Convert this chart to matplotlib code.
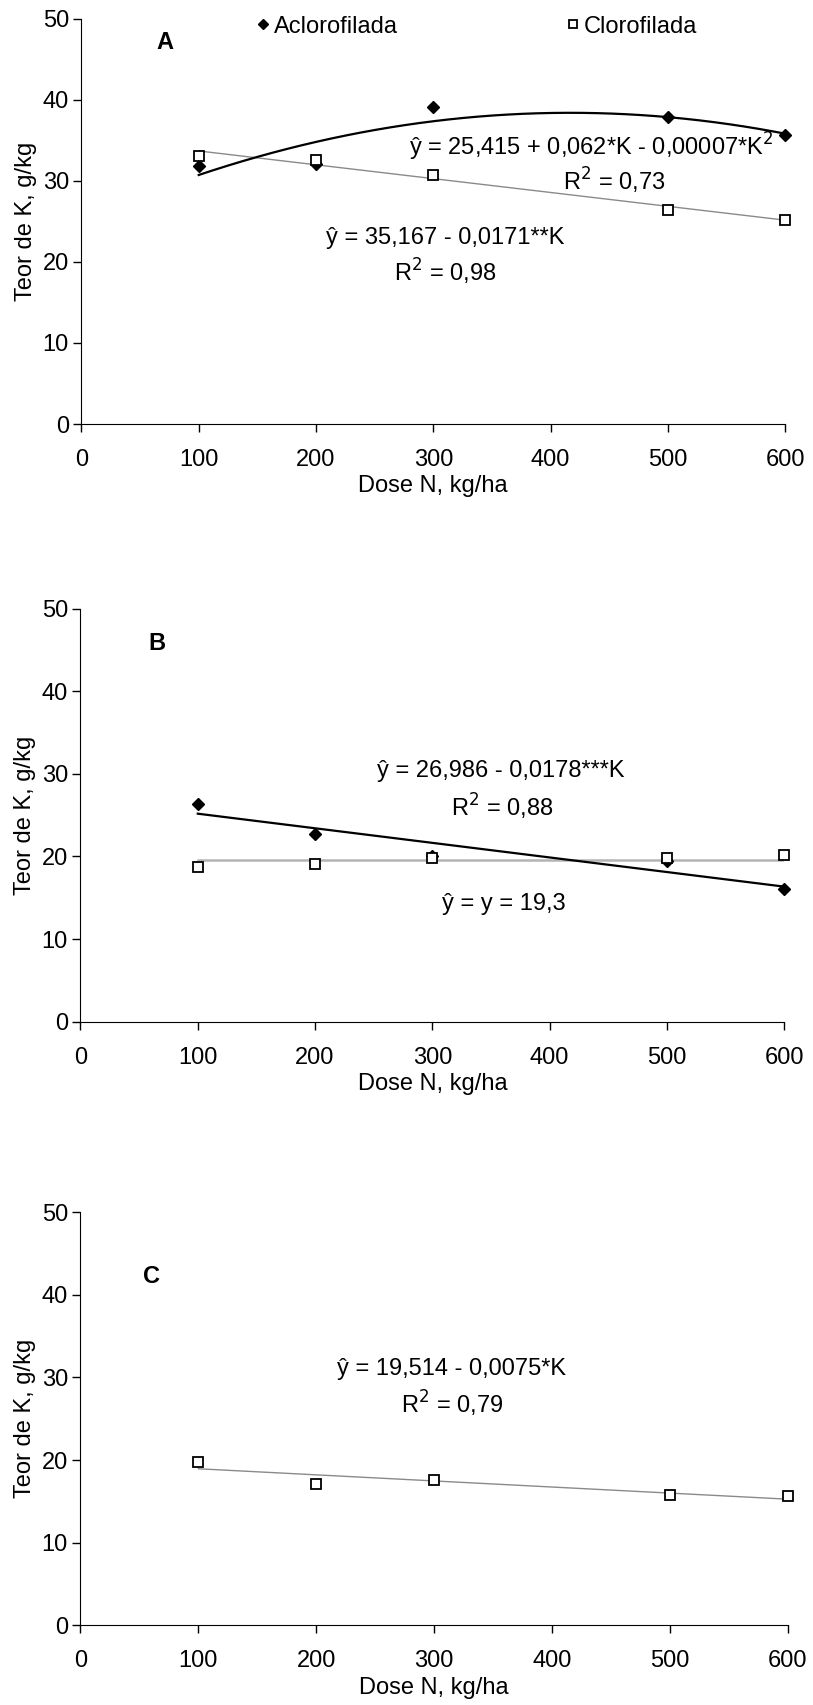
import numpy as np
import matplotlib.pyplot as plt

plt.rcParams['font.family'] = ['Liberation Sans', 'DejaVu Sans']

# Dose N (kg/ha)
dose = [100, 200, 300, 500, 600]

# Panel A
a_aclo = [31.8, 32.1, 39.1, 37.9, 35.6]
a_cloro = [33.0, 32.6, 30.7, 26.4, 25.2]
# Panel B
b_aclo = [26.4, 22.7, 20.1, 19.5, 16.0]
b_cloro = [18.7, 19.1, 19.8, 19.8, 20.2]
# Panel C
c_cloro = [19.8, 17.1, 17.6, 15.8, 15.6]

xticks = [0, 100, 200, 300, 400, 500, 600]
yticks = [0, 10, 20, 30, 40, 50]

fs = 17
fig = plt.figure(figsize=(8.13, 17.05), dpi=100)
axA = fig.add_axes([0.1002, 0.7513, 0.8655, 0.2378])
axB = fig.add_axes([0.0990, 0.4008, 0.8655, 0.2422])
axC = fig.add_axes([0.0990, 0.0467, 0.8700, 0.2424])

xx = np.linspace(100, 600, 200)


def style(ax):
    ax.set_xlim(0, 600)
    ax.set_ylim(0, 50)
    ax.set_xticks(xticks)
    ax.set_yticks(yticks)
    for s in ['top', 'right']:
        ax.spines[s].set_visible(False)
    ax.tick_params(direction='out', length=6, width=1, labelsize=fs, pad=12)
    ax.tick_params(axis='y', pad=3)
    ax.set_ylabel('Teor de K, g/kg', fontsize=fs, labelpad=4)
    ax.set_xlabel('Dose N, kg/ha', fontsize=fs, labelpad=3)


def aclo(ax, y, deg):
    p = np.polyfit(dose, y, deg)
    ax.plot(xx, np.polyval(p, xx), color='black', lw=1.6, zorder=2)
    ax.plot(dose, y, 'D', ms=6.5, mfc='black', mec='black', clip_on=False,
            zorder=3, label='Aclorofilada')


def cloro(ax, y, deg, lw=1.0, color='#8a8a8a'):
    p = np.polyfit(dose, y, deg)
    ax.plot(xx, np.polyval(p, xx), color=color, lw=lw, zorder=1)
    ax.plot(dose, y, 's', ms=6.5, mfc='white', mec='black', mew=1.3,
            clip_on=False, zorder=4, label='Clorofilada')


# A
style(axA)
aclo(axA, a_aclo, 2)
cloro(axA, a_cloro, 1)
axA.text(71, 47, 'A', fontsize=fs, fontweight='bold', ha='center', va='center')
axA.text(435, 34.2, 'ŷ = 25,415 + 0,062*K - 0,00007*K$^2$', fontsize=fs,
         ha='center', va='center')
axA.text(454, 30.0, 'R$^2$ = 0,73', fontsize=fs, ha='center', va='center')
axA.text(310, 23.0, 'ŷ = 35,167 - 0,0171**K', fontsize=fs, ha='center', va='center')
axA.text(310, 18.8, 'R$^2$ = 0,98', fontsize=fs, ha='center', va='center')
axA.legend(loc='upper left', bbox_to_anchor=(0.215, 1.06), ncol=2, frameon=False,
           fontsize=fs, columnspacing=7.0, handletextpad=0.05, handlelength=0.8,
           markerscale=0.8)

# B
style(axB)
cloro(axB, b_cloro, 0, lw=1.8, color='#b4b4b4')
aclo(axB, b_aclo, 1)
axB.text(65, 45.8, 'B', fontsize=fs, fontweight='bold', ha='center', va='center')
axB.text(358, 30.3, 'ŷ = 26,986 - 0,0178***K', fontsize=fs, ha='center', va='center')
axB.text(360, 26.0, 'R$^2$ = 0,88', fontsize=fs, ha='center', va='center')
axB.text(361, 14.2, 'ŷ = y = 19,3', fontsize=fs, ha='center', va='center')

# C
style(axC)
cloro(axC, c_cloro, 1)
axC.text(60, 42.2, 'C', fontsize=fs, fontweight='bold', ha='center', va='center')
axC.text(315, 31.0, 'ŷ = 19,514 - 0,0075*K', fontsize=fs, ha='center', va='center')
axC.text(315, 26.8, 'R$^2$ = 0,79', fontsize=fs, ha='center', va='center')

fig.savefig('out.png', dpi=100)
